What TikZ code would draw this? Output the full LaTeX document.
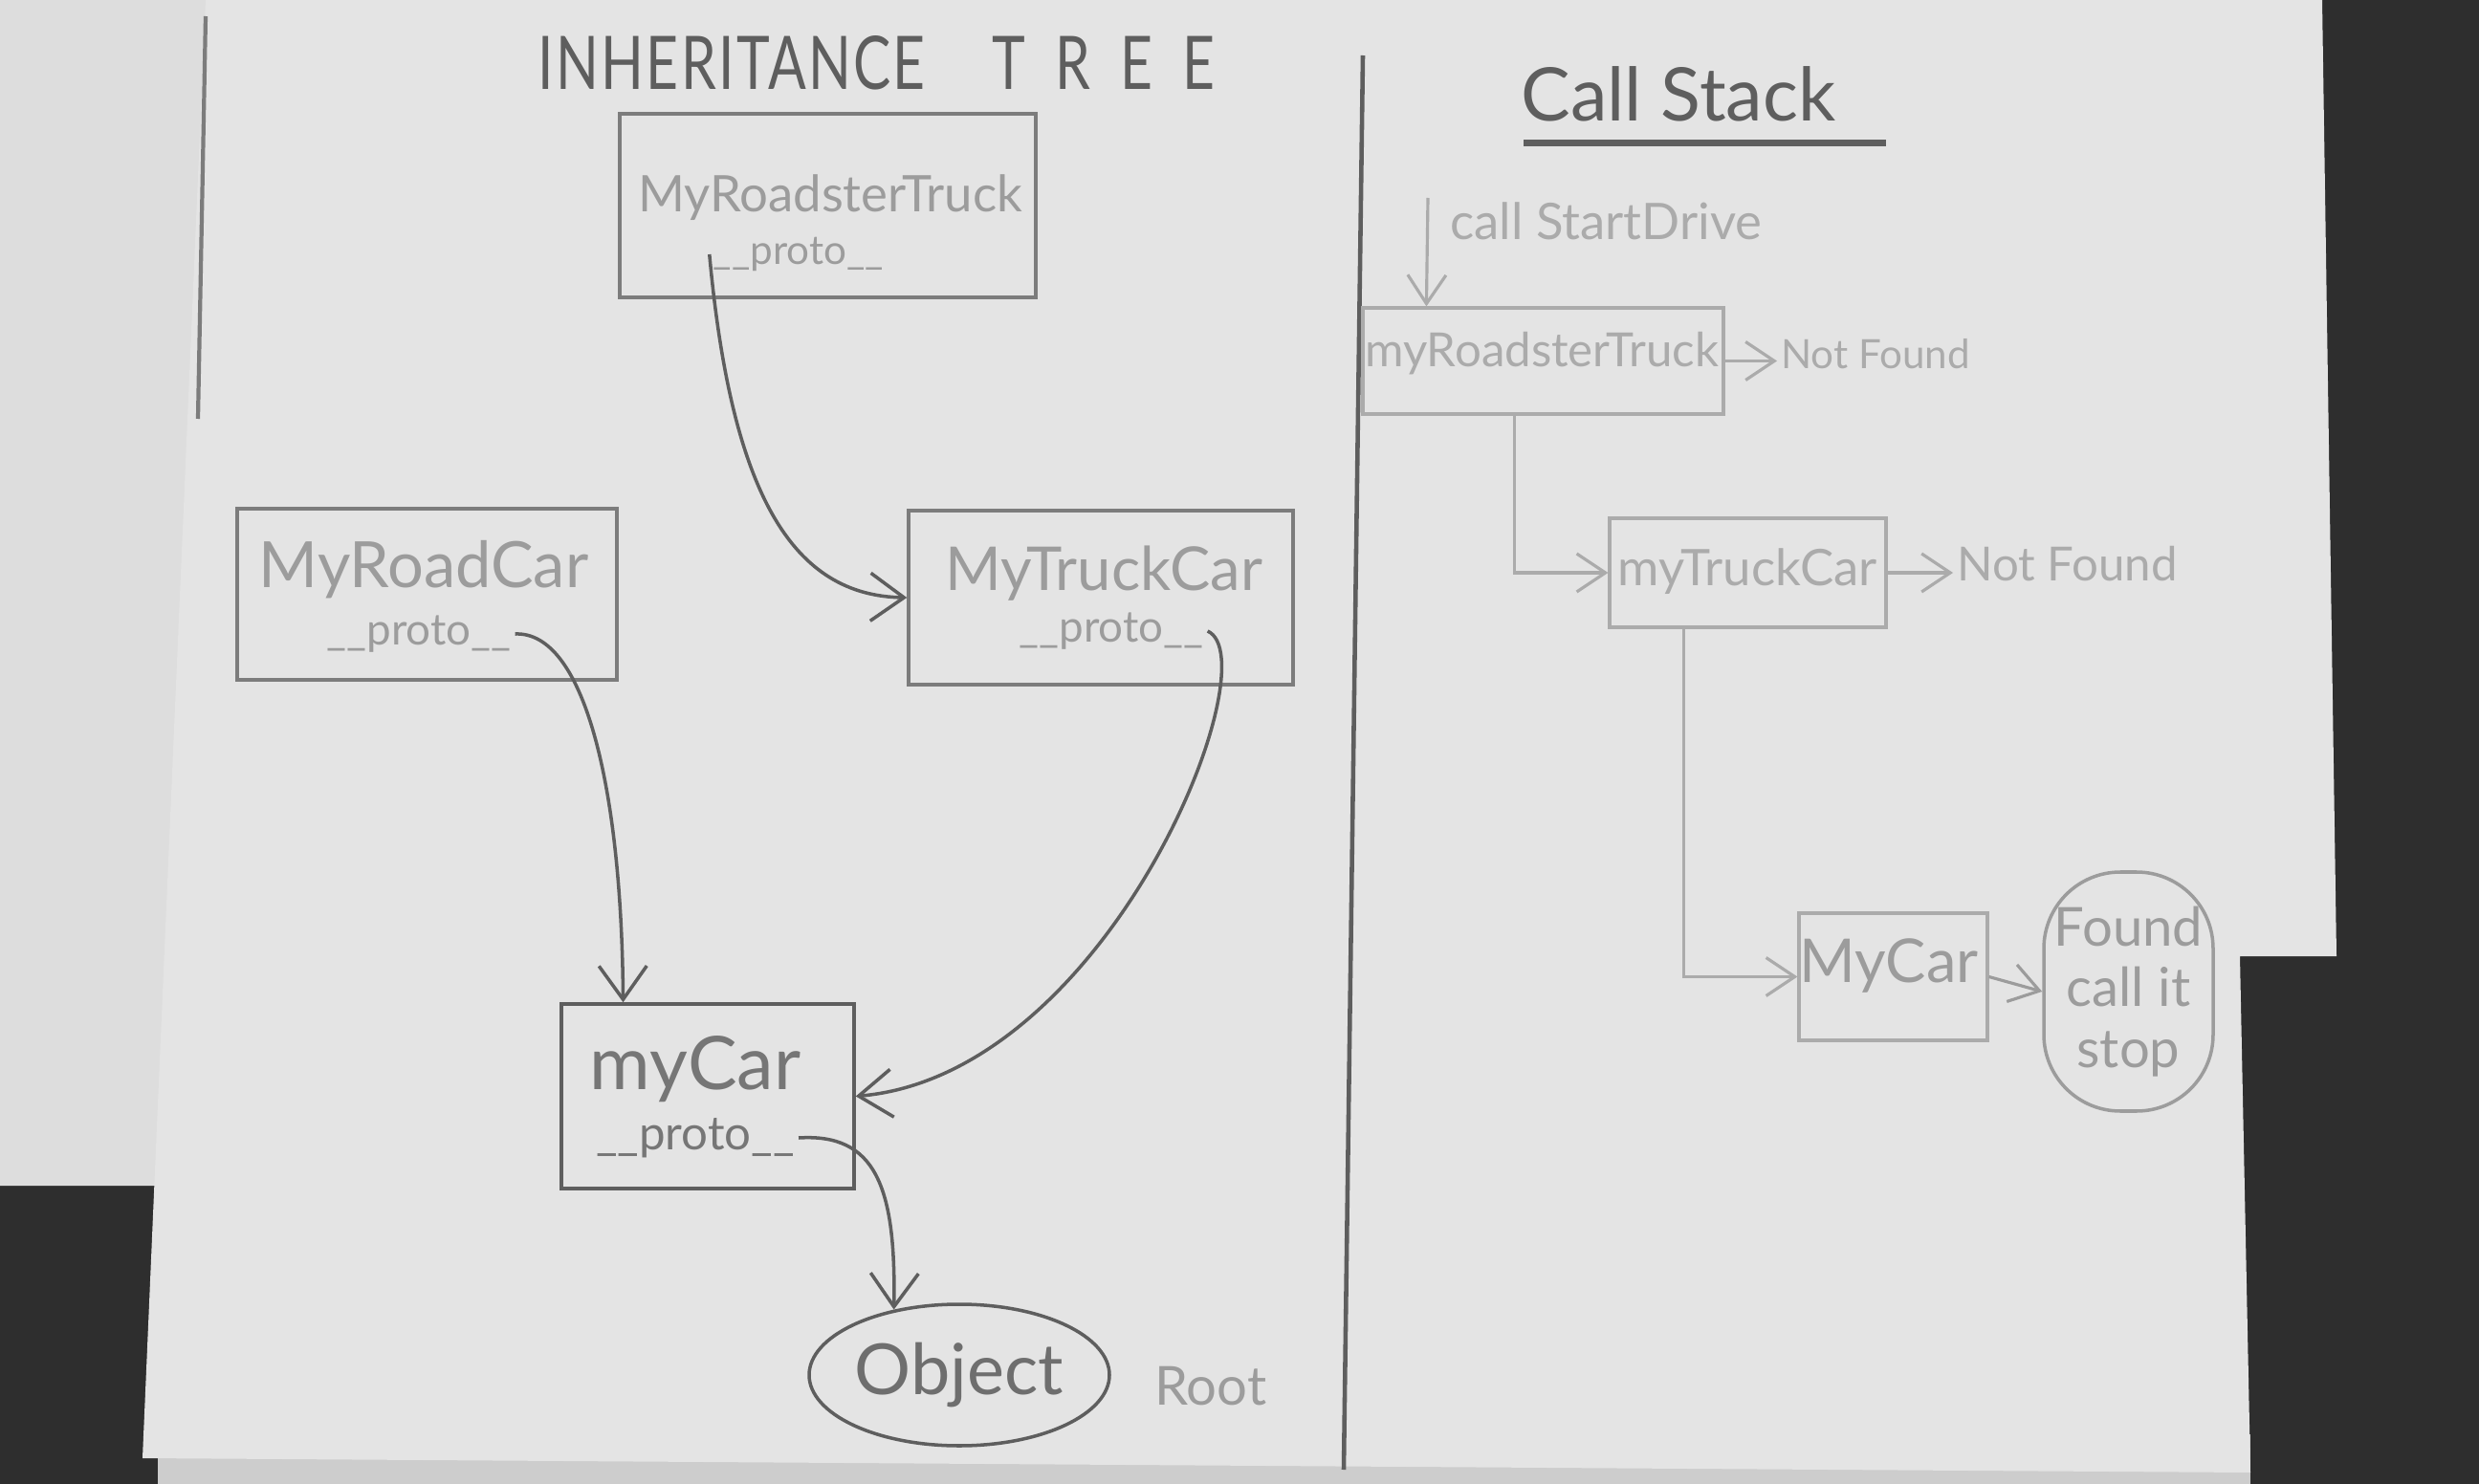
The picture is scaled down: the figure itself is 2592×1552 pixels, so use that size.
\documentclass[tikz,border=0pt]{standalone}
\usepackage{fontspec}
\setmainfont{Lato}
\newfontfamily\titlefont[FakeStretch=0.76,LetterSpace=3]{Lato}
\newfontfamily\spacedfont[FakeStretch=0.76,LetterSpace=40]{Lato}
\usetikzlibrary{arrows.meta,calc,shapes.geometric}
\definecolor{bgdark}{HTML}{2E2E2E}
\definecolor{paperA}{HTML}{E4E4E4}
\definecolor{paperB}{HTML}{DDDDDD}
\definecolor{paperC}{HTML}{CDCDCD}
\definecolor{pencil}{HTML}{5E5E5E}
\definecolor{boxgray}{HTML}{7C7C7C}
\definecolor{pale}{HTML}{9C9C9C}
\definecolor{faint}{HTML}{ABABAB}
\begin{document}
\begin{tikzpicture}[x=0.1mm,y=-0.1mm,
  box/.style={draw=boxgray, line width=1pt, inner sep=0pt},
  fbox/.style={draw=faint, line width=0.9pt, inner sep=0pt},
  nm/.style={text=pale, inner sep=1pt},
  fnm/.style={text=faint, inner sep=1pt},
  arr/.style={draw=pencil, line width=1pt, -{Straight Barb[length=3.5mm,width=5mm]}},
  farr/.style={draw=faint, line width=0.9pt, -{Straight Barb[length=3mm,width=4mm]}}]
\useasboundingbox (0,0) rectangle (2592,1552);
% photo background and sheets of paper
\fill[bgdark] (0,0) rectangle (2592,1552);
\fill[paperB] (0,0) -- (230,0) -- (170,1240) -- (0,1240) -- cycle;
\fill[paperC] (165,1500) -- (2353,1500) -- (2353,1552) -- (165,1552) -- cycle;
\fill[paperA] (215,0) -- (2428,0) -- (2443,1000) -- (2342,1000) -- (2353,1540) -- (149,1525) -- cycle;
\draw[boxgray, line width=1.2pt] (215,17) -- (207,438);
% divider
\draw[pencil, line width=1.3pt] (1425,58) -- (1405,1537);

% ---------- Inheritance tree ----------
\node[text=pencil, anchor=west, inner sep=0pt, font=\titlefont\fontsize{22}{26}\selectfont] (title) at (562,66) {INHERITANCE\hspace{7mm}{\spacedfont TREE}};

\node[box, minimum width=43.5mm, minimum height=19.2mm] (rt) at (865.5,215) {};
\node[nm, font=\fontsize{15}{17}\selectfont] (rtn) at (868,207) {MyRoadsterTruck};
\node[nm, font=\fontsize{12}{14}\selectfont] (rtp) at (835,266) {\_\_proto\_\_};

\node[box, minimum width=39.7mm, minimum height=17.9mm] (rc) at (446.5,621.5) {};
\node[nm, font=\fontsize{19}{22}\selectfont] (rcn) at (443,596) {MyRoadCar};
\node[nm, font=\fontsize{13}{15}\selectfont] (rcp) at (438,663) {\_\_proto\_\_};

\node[box, minimum width=40.2mm, minimum height=18.2mm] (tc) at (1151,625) {};
\node[nm, font=\fontsize{18}{21}\selectfont] (tcn) at (1154,600) {MyTruckCar};
\node[nm, font=\fontsize{13}{15}\selectfont] (tcp) at (1162,660) {\_\_proto\_\_};

\node[box, draw=pencil, minimum width=30.6mm, minimum height=19.3mm] (mc) at (740,1146.5) {};
\node[nm, text=pencil!85, font=\fontsize{22}{26}\selectfont] (mcn) at (727,1118) {myCar};
\node[nm, text=pencil!85, font=\fontsize{14}{16}\selectfont] (mcp) at (727,1190) {\_\_proto\_\_};

\node[ellipse, draw=pencil, line width=1pt, minimum width=31.4mm, minimum height=14.8mm, inner sep=0pt,
      text=pencil!90, font=\fontsize{21}{24}\selectfont] (obj) at (1003,1438) {Object};
\node[text=pale, font=\fontsize{16}{19}\selectfont, anchor=west] (root) at (1195,1450) {Root};

\draw[arr] (rtp.west) .. controls (765,520) and (830,623) .. (tc.west);
\draw[arr] (rcp.east) .. controls (610,660) and (650,820) .. (mc.132);
\draw[arr] (tcp.east) .. controls (1330,690) and (1160,1124) .. (mc.east);
\draw[arr] (mcp.east) .. controls (915,1185) and (937,1240) .. (obj.135);

% ---------- Call stack ----------
\node[text=pencil, font=\fontsize{22}{26}\selectfont] (cst) at (1755,98) {Call Stack};
\draw[pencil, line width=2pt] ($(cst.south west)+(15,10)$) -- ($(cst.south east)+(40,10)$);

\node[fnm, font=\fontsize{15}{18}\selectfont, anchor=west] (csd) at (1512,231) {call StartDrive};
\coordinate (csstart) at (1493,207);

\node[fbox, minimum width=37.7mm, minimum height=11.1mm] (rs) at (1613.5,377.5) {};
\node[fnm, font=\fontsize{14}{16}\selectfont] (rsn) at (1612,370) {myRoadsterTruck};
\node[fnm, font=\fontsize{12}{14}\selectfont, anchor=west] (nf1) at (1858,370) {Not Found};

\node[fbox, minimum width=28.9mm, minimum height=11.4mm] (ts) at (1827.5,599) {};
\node[fnm, font=\fontsize{15}{18}\selectfont] (tsn) at (1827,598) {myTruckCar};
\node[fnm, font=\fontsize{14}{16}\selectfont, anchor=west] (nf2) at (2042,590) {Not Found};

\node[fbox, minimum width=19.7mm, minimum height=13.3mm] (mcr) at (1979.5,1021.5) {};
\node[fnm, text=pale, font=\fontsize{18}{21}\selectfont] (mcrn) at (1975,1010) {MyCar};

\node[draw=pale, line width=1pt, rounded corners=8mm, minimum width=17.7mm, minimum height=25mm,
      align=center, text=pale, inner sep=0pt, font=\fontsize{16}{18}\selectfont] (fnd) at (2225.5,1037) {Found\\call it\\stop};

\draw[farr] (csstart) -- ($(rs.north west)+(68,0)$);
\draw[farr] (rs.east) -- (rs.east -| nf1.west);
\draw[farr] ($(rs.south)+(-30,0)$) |- (ts.west);
\draw[farr] (ts.east) -- (ts.east -| nf2.west);
\draw[farr] ($(ts.south)+(-67,0)$) |- (mcr.west);
\draw[farr, draw=pale] (mcr.east) -- (fnd.west);
\end{tikzpicture}
\end{document}
